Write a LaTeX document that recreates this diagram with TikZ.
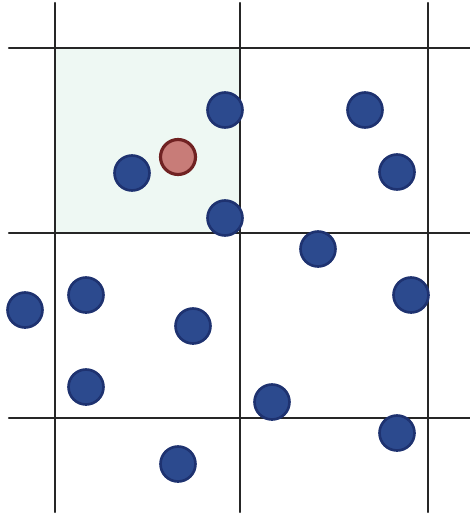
\documentclass[tikz,border=0pt]{standalone}
\usetikzlibrary{calc}

\definecolor{cellfill}{RGB}{238,248,243}
\definecolor{partblue}{RGB}{44,74,142}
\definecolor{partedge}{RGB}{30,50,112}
\definecolor{partred}{RGB}{200,124,120}
\definecolor{redge}{RGB}{112,34,34}

\begin{document}
\begin{tikzpicture}[x=0.02cm, y=-0.02cm, line cap=round, line join=round]

% ------------------------------------------------
% Styles
% ------------------------------------------------
\tikzset{
    gridline/.style={line width=1.3pt, black!85},
    cell/.style={fill=cellfill},
    particle/.style={circle, minimum size=0.7cm, inner sep=0pt,
        line width=1.5pt, draw=partedge, fill=partblue},
    probe/.style={circle, minimum size=0.7cm, inner sep=0pt,
        line width=1.8pt, draw=redge, fill=partred},
}

\useasboundingbox (0,0) rectangle (470,514);

% ------------------------------------------------
% Highlighted cell
% ------------------------------------------------
\fill[cell] (55,48) rectangle (240,233);

% ------------------------------------------------
% Grid lines
% ------------------------------------------------
\foreach \gx in {55,240,428}{
    \draw[gridline] (\gx,3) -- (\gx,512);
}
\foreach \gy in {48,233,418}{
    \draw[gridline] (9,\gy) -- (470,\gy);
}

% ------------------------------------------------
% Particles
% ------------------------------------------------
\foreach \px/\py [count=\i] in {225/110, 132/173, 225/218, 365/110, 397/172,
        318/249, 411/295, 272/402, 397/433, 25/310, 86/295, 193/326,
        86/387, 178/464}{
    \node[particle] (p\i) at (\px,\py) {};
}

% probe particle
\node[probe] (q) at (178,157) {};

\end{tikzpicture}
\end{document}
